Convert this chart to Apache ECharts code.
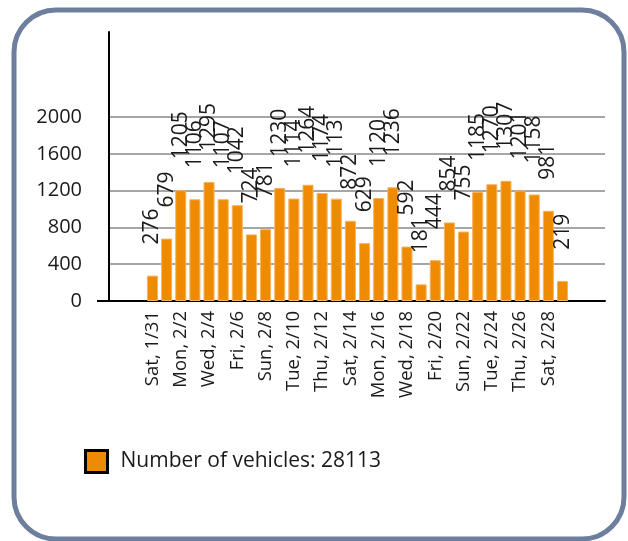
<!DOCTYPE html>
<html>
<head>
<meta charset="utf-8">
<script src="https://cdn.jsdelivr.net/npm/echarts@6/dist/echarts.min.js"></script>
<style>html,body{margin:0;padding:0;background:#fff;}#c{width:628px;height:541px;}</style>
</head>
<body>
<div id="c"></div>
<script>
const categories = ['Sat, 1/31','Sun, 2/1','Mon, 2/2','Tue, 2/3','Wed, 2/4','Thu, 2/5','Fri, 2/6','Sat, 2/7','Sun, 2/8','Mon, 2/9','Tue, 2/10','Wed, 2/11','Thu, 2/12','Fri, 2/13','Sat, 2/14','Sun, 2/15','Mon, 2/16','Tue, 2/17','Wed, 2/18','Thu, 2/19','Fri, 2/20','Sat, 2/21','Sun, 2/22','Mon, 2/23','Tue, 2/24','Wed, 2/25','Thu, 2/26','Fri, 2/27','Sat, 2/28','Sun, 3/1'];
const vehicles = [276,679,1205,1106,1295,1107,1042,724,781,1230,1114,1264,1174,1113,872,629,1120,1236,592,181,444,854,755,1185,1270,1307,1201,1158,981,219];
const yTicks = [0,400,800,1200,1600,2000];
const seriesName = 'Number of vehicles: 28113';

const FONT = "'Open Sans', 'Noto Sans', sans-serif";
const Y_MAX = 2925;
const chart = echarts.init(document.getElementById('c'), null, {renderer:'canvas'});
const gridColors = yTicks.map(()=> '#a6a6a6').concat(['rgba(0,0,0,0)','rgba(0,0,0,0)','rgba(0,0,0,0)']);

chart.setOption({
  animation:false,
  backgroundColor:'#fff',
  grid:[
    {left:109, right:23, top:32, bottom:240},
    {left:145.4, right:58.4, top:32, bottom:240}
  ],
  xAxis:[
    {gridIndex:0, type:'value', min:0, max:1, axisLine:{show:true, onZero:false, lineStyle:{color:'#000', width:2}}, axisTick:{show:false}, axisLabel:{show:false}, splitLine:{show:false}},
    {gridIndex:1, type:'category', data:categories, axisLine:{show:false}, axisTick:{show:false},
     axisLabel:{interval:1, rotate:90, margin:10, fontFamily:FONT, fontSize:18.5, color:'#1a1a1a'}}
  ],
  yAxis:[
    {gridIndex:0, type:'value', min:0, max:Y_MAX, interval:400,
     axisLine:{show:true, lineStyle:{color:'#000', width:2}}, axisTick:{show:false},
     axisLabel:{margin:27, fontFamily:FONT, fontSize:20, color:'#1a1a1a', showMaxLabel:false,
       formatter:(v)=> yTicks.indexOf(v) >= 0 ? String(v) : ''},
     splitLine:{show:true, showMaxLine:false, lineStyle:{color:gridColors, width:2}}},
    {gridIndex:1, type:'value', min:0, max:Y_MAX, show:false, splitLine:{show:false}}
  ],
  legend:{
    left:79, top:444, padding:5, icon:'rect', itemWidth:22, itemHeight:22,
    itemStyle:{borderColor:'#000', borderWidth:3},
    textStyle:{fontFamily:FONT, fontSize:21, color:'#1a1a1a', padding:[0,0,0,8]},
    data:[seriesName]
  },
  series:[{
    name:seriesName, type:'bar', xAxisIndex:1, yAxisIndex:1, data:vehicles,
    barCategoryGap:'22%',
    itemStyle:{color:'#ef8b00', borderColor:'#f6b35e', borderWidth:1},
    label:{show:true, position:'top', distance:31, rotate:90, align:'left', verticalAlign:'middle',
      fontFamily:FONT, fontSize:21, color:'#1a1a1a'}
  }]
});

const p0 = chart.convertToPixel({gridIndex:0}, [0, 0]);
chart.setOption({
  graphic:[
    {type:'rect', shape:{x:14, y:10, width:610, height:529, r:42}, style:{fill:'none', stroke:'#6d7f9d', lineWidth:5}, z:100},
    {type:'line', shape:{x1:p0[0]-12, y1:p0[1], x2:p0[0], y2:p0[1]}, style:{stroke:'#000', lineWidth:2}, z:50}
  ]
});
</script>
</body>
</html>
